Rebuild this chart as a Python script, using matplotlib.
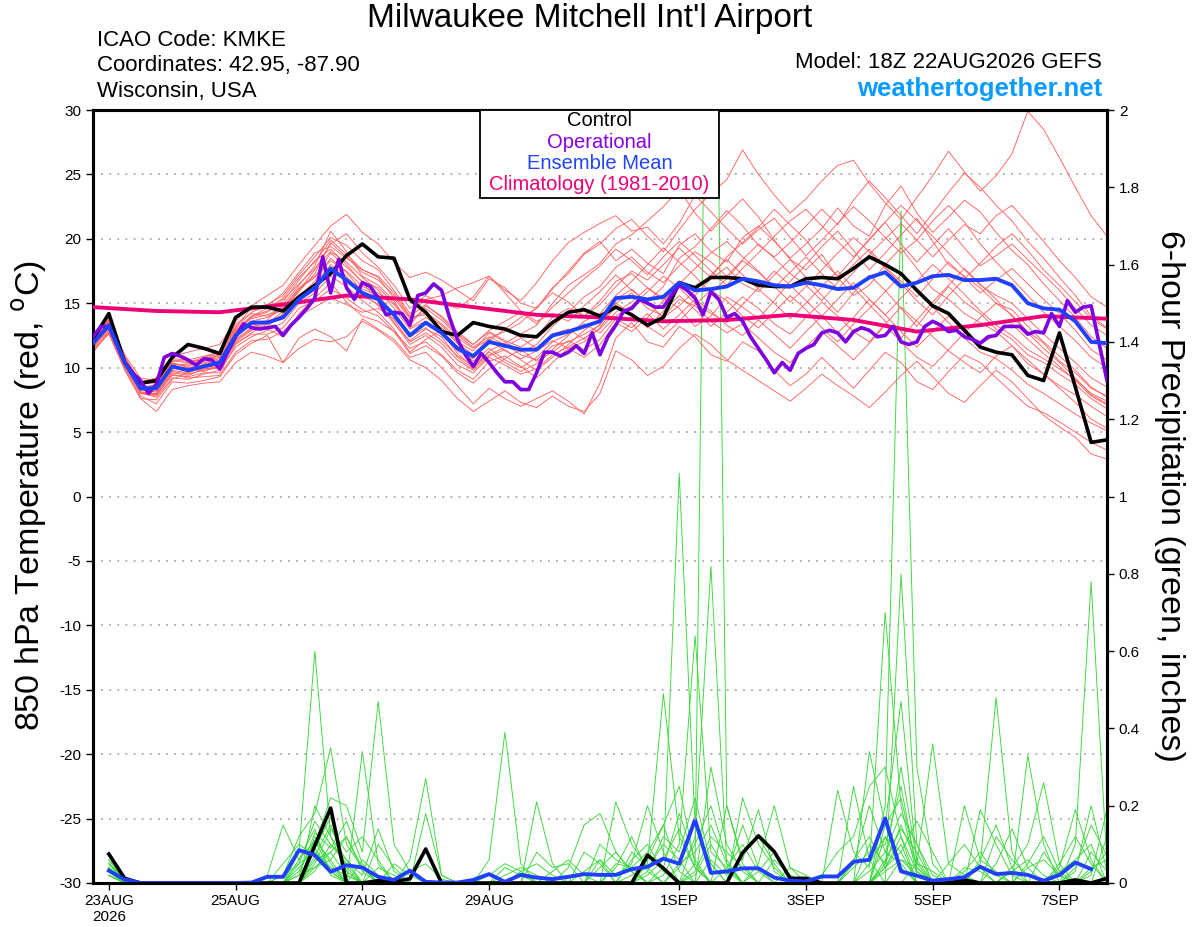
import matplotlib
matplotlib.use("Agg")
import matplotlib.pyplot as plt
import numpy as np
from matplotlib.ticker import FuncFormatter
from matplotlib.patches import Rectangle

plt.rcParams['font.family'] = ['Liberation Sans', 'DejaVu Sans']
plt.rcParams['axes.unicode_minus'] = False

# ---------------- data ----------------
run_start = np.datetime64('2026-08-22T18')
tick_dates = ['2026-08-23', '2026-08-25', '2026-08-27', '2026-08-29',
              '2026-09-01', '2026-09-03', '2026-09-05', '2026-09-07']
tick_labels = ['23AUG\n2026', '25AUG', '27AUG', '29AUG', '1SEP', '3SEP', '5SEP', '7SEP']

# 850 hPa temperature, 6-hourly from 18Z 22AUG
control_t = [12.2, 14.2, 10.4, 8.8, 9.0, 10.8, 11.8, 11.5, 11.1,
             13.9, 14.7, 14.7, 14.4, 15.5, 16.4, 17.3, 18.7, 19.6, 18.6, 18.5, 15.3,
             14.3, 12.8, 12.5, 13.5, 13.2, 13.0, 12.5, 12.4, 13.5, 14.3, 14.5, 14.0,
             14.7, 14.1, 13.3, 13.9, 16.6, 16.2, 17.0, 17.0, 16.9, 16.4, 16.3, 16.3,
             16.9, 17.0, 16.9, 17.7, 18.6, 18.0, 17.3, 16.0, 14.8, 14.2, 12.9, 11.6,
             11.2, 11.0, 9.4, 9.0, 12.7, 8.5, 4.2, 4.4]

mean_t = [11.9, 13.3, 10.4, 8.4, 8.4, 10.1, 9.8, 10.1, 10.4,
          12.5, 13.5, 13.5, 13.9, 15.3, 16.2, 17.7, 16.8, 15.8, 15.3, 14.1, 12.5,
          13.5, 12.7, 11.5, 10.9, 12.0, 11.7, 11.4, 11.4, 12.5, 12.8, 13.2, 13.6,
          15.4, 15.5, 15.3, 15.5, 16.6, 16.0, 16.1, 16.3, 16.9, 16.7, 16.4, 16.3,
          16.6, 16.4, 16.1, 16.2, 17.0, 17.4, 16.3, 16.6, 17.1, 17.2, 16.8, 16.8,
          16.9, 16.4, 15.0, 14.6, 14.5, 13.6, 12.0, 11.9]

# operational run, 3-hourly
oper_t = [12.4, 13.2, 13.2, 11.8, 10.4, 9.6, 9.0, 8.0, 8.7, 10.8, 11.1, 10.9,
          10.6, 10.2, 10.7, 10.6, 9.9, 11.2, 12.4, 13.4, 13.1, 13.0, 13.1, 13.2,
          12.5, 13.3, 13.9, 14.6, 15.4, 18.6, 15.8, 18.4, 16.2, 15.3, 16.6, 16.3,
          15.4, 14.1, 14.3, 14.2, 13.3, 15.6, 15.8, 16.5, 16.0, 13.9, 12.2, 11.0,
          10.1, 11.1, 10.4, 9.6, 8.9, 8.9, 8.3, 8.3, 9.6, 11.2, 11.2, 10.9,
          11.2, 11.7, 11.1, 12.7, 11.0, 12.4, 13.3, 14.4, 14.6, 15.3, 15.0, 14.7,
          14.7, 15.6, 16.4, 16.0, 15.4, 14.1, 15.9, 15.3, 13.9, 14.2, 13.6, 12.4,
          11.5, 10.6, 9.6, 10.4, 9.8, 11.1, 11.5, 11.8, 12.7, 12.9, 12.7, 12.0,
          12.8, 13.1, 12.9, 12.4, 12.5, 13.2, 12.0, 11.8, 12.0, 13.2, 13.6, 13.3,
          12.8, 12.9, 12.4, 12.2, 11.9, 12.4, 12.5, 13.2, 13.2, 13.2, 12.6, 12.8,
          12.7, 14.2, 13.2, 15.2, 14.3, 14.7, 14.8, 11.9, 9.0]

# climatology, daily
clim_t = [14.7, 14.4, 14.3, 14.9, 15.6, 15.3, 14.7, 14.1, 13.9,
          13.6, 13.7, 14.1, 13.7, 12.8, 13.3, 14.0, 13.8]

# ensemble members, 6-hourly
members_t = [
    [12.3, 13.6, 10.8, 8.9, 9.2, 10.9, 11.2, 11.5, 11.8,
     13.6, 14.8, 15.6, 16.4, 18.0, 19.5, 21.0, 21.9, 20.5, 19.6, 18.2, 17.0,
     17.4, 16.8, 16.0, 15.2, 16.9, 16.2, 15.0, 14.6, 16.1, 17.5, 18.9, 19.8,
     18.3, 19.2, 18.1, 17.3, 19.5, 20.4, 19.0, 18.2, 20.1, 21.0, 19.8, 18.5,
     19.6, 20.8, 22.4, 21.0, 20.2, 22.6, 24.1, 22.0, 20.5, 21.7, 23.0, 22.1,
     20.5, 19.1, 18.0, 16.5, 15.2, 13.9, 12.4, 11.5],
    [11.5, 12.9, 10.0, 7.8, 7.2, 8.9, 8.8, 9.0, 9.3,
     11.0, 11.9, 12.5, 10.4, 12.3, 13.0, 12.4, 11.3, 13.8, 13.0, 12.2, 10.8,
     11.2, 10.0, 8.6, 7.2, 8.4, 7.6, 7.0, 7.6, 8.2, 7.4, 6.4, 8.8,
     12.3, 13.5, 12.0, 11.6, 13.2, 12.4, 11.0, 10.5, 12.0, 11.3, 9.8, 8.6,
     9.5, 10.8, 9.6, 8.4, 9.8, 11.2, 10.4, 8.9, 8.3, 9.7, 11.0, 10.4,
     9.2, 8.1, 7.0, 6.5, 5.8, 5.0, 4.2, 3.6],
    [12.0, 13.1, 10.6, 8.2, 8.6, 10.4, 10.0, 9.7, 10.2,
     12.8, 13.9, 14.3, 15.1, 16.8, 18.3, 19.2, 18.0, 16.6, 15.2, 13.4, 12.1,
     13.0, 12.4, 10.8, 9.9, 11.3, 11.9, 12.6, 13.3, 15.0, 16.4, 17.2, 18.1,
     19.6, 20.3, 21.4, 22.5, 23.8, 22.0, 20.6, 21.9, 23.1, 21.7, 19.9, 18.4,
     17.6, 18.8, 17.0, 15.6, 16.4, 18.0, 19.3, 17.7, 16.1, 15.3, 14.2, 13.5,
     12.8, 11.7, 10.3, 9.5, 8.6, 7.9, 7.0, 6.2],
    [11.8, 13.4, 10.2, 8.0, 8.0, 9.6, 9.4, 9.9, 10.0,
     12.0, 12.9, 13.2, 14.2, 15.5, 16.7, 18.5, 17.4, 15.9, 14.8, 13.5, 11.8,
     12.5, 11.6, 10.2, 9.6, 10.8, 10.2, 9.5, 9.9, 11.0, 11.6, 12.3, 13.0,
     14.3, 15.1, 16.2, 15.4, 14.6, 13.2, 14.0, 15.5, 14.7, 13.8, 15.2, 16.7,
     18.0, 19.4, 20.6, 19.1, 17.6, 18.9, 20.3, 21.6, 19.8, 18.0, 17.1, 16.2,
     15.0, 14.1, 12.8, 11.9, 10.5, 9.6, 8.4, 7.8],
    [12.4, 13.8, 11.0, 9.2, 9.0, 10.7, 10.6, 10.9, 11.2,
     13.2, 14.6, 14.9, 15.6, 17.2, 18.6, 20.1, 19.5, 18.3, 17.6, 16.0, 14.2,
     15.3, 15.6, 16.2, 16.6, 17.1, 15.8, 14.4, 13.6, 14.2, 13.6, 14.8, 15.9,
     17.2, 16.0, 15.1, 16.3, 18.5, 19.4, 20.8, 22.2, 21.0, 19.5, 18.6, 19.7,
     21.0, 22.3, 21.1, 23.0, 24.5, 23.2, 21.8, 20.4, 22.0, 23.6, 25.1, 24.0,
     22.6, 21.4, 19.8, 18.5, 17.0, 15.6, 14.0, 13.1],
    [11.2, 12.7, 9.8, 7.6, 7.5, 9.1, 9.6, 10.3, 10.6,
     12.9, 13.4, 13.0, 12.4, 14.2, 15.4, 16.6, 15.1, 14.0, 13.6, 12.8, 11.5,
     12.0, 11.0, 9.8, 9.1, 10.5, 10.9, 10.1, 9.2, 10.4, 11.5, 10.8, 11.8,
     13.5, 12.8, 13.9, 15.2, 16.4, 15.6, 16.9, 17.8, 16.5, 15.9, 17.2, 18.4,
     17.0, 15.6, 14.3, 15.8, 17.2, 16.0, 14.6, 13.2, 14.8, 16.3, 15.1, 14.2,
     13.0, 12.2, 11.0, 10.4, 9.5, 8.7, 7.6, 6.8],
    [12.6, 13.9, 10.9, 8.7, 8.9, 10.3, 10.1, 10.6, 11.0,
     13.4, 14.2, 14.0, 14.6, 16.1, 17.0, 18.9, 17.8, 16.7, 16.2, 15.0, 13.6,
     14.6, 13.7, 12.5, 11.6, 12.4, 11.8, 11.0, 10.6, 11.7, 12.0, 12.6, 13.3,
     15.0, 15.8, 14.6, 14.0, 15.3, 14.8, 13.6, 12.7, 13.4, 12.3, 11.2, 10.4,
     11.6, 12.8, 11.7, 10.6, 11.9, 13.3, 12.0, 10.8, 10.1, 11.4, 12.7, 13.9,
     15.0, 14.5, 13.2, 12.0, 10.9, 9.8, 8.5, 7.7],
    [11.6, 13.0, 10.3, 8.3, 8.1, 9.8, 9.6, 10.0, 10.2,
     12.2, 13.1, 13.7, 14.9, 16.4, 17.9, 20.6, 19.0, 17.1, 16.4, 15.2, 13.1,
     13.9, 13.1, 11.9, 11.0, 12.3, 12.8, 13.5, 14.7, 15.8, 15.1, 14.0, 14.9,
     16.3, 17.5, 16.8, 18.0, 19.3, 18.1, 17.0, 18.6, 19.7, 20.9, 22.3, 21.1,
     19.9, 18.3, 17.1, 18.5, 20.0, 21.3, 19.6, 18.2, 19.5, 20.8, 19.3, 17.9,
     18.7, 19.6, 18.4, 17.2, 16.0, 14.6, 13.3, 12.5],
    [11.4, 12.6, 9.9, 7.6, 6.6, 8.3, 8.6, 8.8, 8.9,
     10.4, 11.2, 10.9, 10.4, 11.5, 12.2, 12.0, 12.4, 13.6, 12.9, 12.0, 10.6,
     10.0, 9.0, 7.6, 6.6, 7.4, 8.2, 7.3, 6.9, 7.8, 7.0, 6.6, 8.0,
     11.3, 10.6, 9.4, 10.1, 11.5, 12.6, 11.8, 10.6, 9.8, 9.0, 8.2, 7.4,
     8.4, 9.5, 8.6, 7.8, 6.9, 8.1, 9.4, 10.5, 9.3, 8.0, 7.3, 8.6,
     9.8, 8.9, 7.6, 6.3, 5.4, 4.6, 3.3, 2.9],
    [12.1, 13.5, 10.5, 8.5, 8.3, 10.0, 9.9, 10.4, 10.7,
     12.6, 13.6, 13.9, 14.5, 15.9, 17.3, 19.7, 18.6, 17.4, 16.8, 15.6, 13.9,
     14.1, 13.3, 12.0, 11.3, 12.7, 12.0, 11.2, 11.8, 13.2, 14.3, 15.5, 16.3,
     17.8, 18.6, 17.4, 16.6, 17.9, 19.0, 18.2, 17.1, 18.4, 19.6, 18.5, 17.3,
     16.4, 15.2, 16.6, 18.0, 19.2, 17.8, 16.7, 15.5, 16.9, 18.2, 17.0, 15.8,
     16.8, 17.7, 16.5, 15.3, 14.2, 12.9, 11.4, 10.6],
    [11.7, 13.2, 10.1, 8.1, 7.7, 9.2, 9.1, 9.5, 9.8,
     11.6, 12.4, 12.9, 13.5, 15.0, 15.8, 17.1, 16.3, 15.2, 14.3, 13.0, 11.2,
     12.2, 12.9, 11.6, 10.5, 11.5, 10.6, 10.0, 10.8, 12.0, 12.6, 13.4, 12.7,
     14.0, 14.8, 15.9, 17.1, 16.2, 15.0, 14.2, 13.5, 14.9, 16.2, 17.5, 16.4,
     15.2, 14.0, 12.7, 13.9, 15.3, 14.1, 12.8, 11.6, 12.8, 14.0, 12.9, 11.8,
     12.6, 13.4, 12.2, 11.1, 10.1, 9.0, 7.8, 7.1],
    [12.2, 13.7, 10.7, 8.6, 8.5, 10.2, 10.3, 10.7, 11.1,
     13.0, 14.0, 14.4, 15.3, 16.5, 17.7, 19.0, 18.2, 17.0, 16.0, 14.6, 13.0,
     13.6, 12.6, 11.3, 10.7, 12.1, 13.0, 13.9, 14.6, 16.2, 17.3, 18.8, 19.6,
     20.8, 21.5, 20.2, 19.0, 20.7, 22.3, 23.5, 24.6, 26.9, 25.0, 23.4, 22.0,
     23.1, 24.5, 25.7, 26.1, 24.3, 22.8, 21.5, 23.2, 24.9, 26.8, 25.2, 23.7,
     24.9, 26.6, 29.9, 28.5, 26.3, 24.0, 21.8, 20.2],
    [11.9, 13.3, 10.4, 8.2, 8.2, 9.9, 10.0, 10.2, 10.5,
     12.4, 13.3, 13.6, 14.0, 15.2, 16.0, 17.6, 16.9, 16.1, 15.6, 14.2, 12.4,
     13.1, 12.1, 10.9, 10.2, 11.2, 10.4, 9.7, 10.3, 11.4, 12.5, 13.6, 14.2,
     15.6, 16.7, 18.0, 19.3, 18.2, 17.1, 15.8, 16.9, 18.3, 17.4, 16.3, 15.1,
     16.3, 17.6, 18.9, 20.1, 19.0, 17.7, 16.5, 15.2, 14.1, 15.6, 16.9, 18.1,
     19.4, 20.4, 19.1, 17.6, 16.4, 15.1, 13.8, 13.0],
    [12.5, 13.6, 10.6, 8.8, 8.8, 10.5, 10.4, 10.8, 11.2,
     13.1, 14.3, 14.8, 15.8, 17.4, 18.9, 19.4, 18.5, 17.6, 17.0, 15.4, 13.8,
     14.3, 13.4, 12.3, 11.5, 12.2, 11.3, 10.7, 11.3, 12.1, 11.5, 12.0, 13.1,
     14.8, 14.1, 13.2, 12.4, 13.6, 14.9, 16.0, 15.2, 14.0, 13.1, 14.3, 15.6,
     14.5, 13.1, 12.0, 13.4, 14.6, 15.9, 17.2, 16.0, 14.7, 13.5, 12.3, 11.2,
     10.7, 9.8, 8.7, 8.0, 7.2, 6.4, 5.7, 5.1],
    [11.3, 12.8, 10.2, 8.0, 7.9, 9.4, 9.3, 9.6, 9.6,
     11.8, 12.7, 13.4, 14.4, 16.0, 17.6, 19.6, 20.4, 18.9, 17.8, 16.4, 14.6,
     15.6, 15.0, 14.6, 15.5, 17.1, 16.0, 15.2, 16.6, 18.3, 19.7, 20.5, 21.2,
     21.8, 20.6, 20.9, 19.6, 21.2, 23.4, 22.1, 20.8, 19.6, 20.7, 21.6, 20.1,
     18.7, 19.9, 21.2, 22.5, 21.4, 20.1, 18.9, 19.9, 21.4, 22.6, 21.3, 19.6,
     18.2, 16.9, 15.6, 14.3, 13.2, 12.1, 10.8, 10.0],
    [12.0, 13.0, 10.3, 8.4, 8.4, 10.0, 9.7, 9.9, 10.1,
     11.9, 12.6, 12.6, 13.1, 14.6, 15.2, 16.1, 15.4, 14.5, 14.0, 12.8, 11.1,
     11.7, 10.9, 9.6, 8.8, 9.9, 10.7, 11.4, 10.5, 11.2, 12.1, 11.4, 12.2,
     13.8, 13.1, 14.2, 13.0, 14.1, 15.3, 14.4, 13.3, 12.5, 13.7, 12.6, 11.5,
     12.8, 14.0, 15.3, 16.6, 15.3, 14.1, 15.4, 16.7, 18.0, 16.9, 15.7, 14.4,
     13.3, 12.5, 11.4, 10.7, 9.9, 9.1, 8.0, 7.4],
    [12.3, 13.5, 10.8, 8.4, 8.7, 10.6, 10.5, 10.6, 10.9,
     12.9, 13.8, 14.1, 14.7, 16.2, 17.1, 18.3, 17.5, 16.3, 15.8, 14.9, 13.3,
     14.8, 14.0, 12.8, 11.8, 12.8, 12.1, 11.6, 12.4, 13.9, 14.6, 14.0, 15.2,
     16.7, 17.3, 16.2, 15.2, 16.5, 17.7, 18.9, 19.8, 18.6, 17.5, 16.2, 17.4,
     18.6, 17.3, 16.1, 17.4, 18.8, 20.0, 21.2, 19.9, 18.6, 19.9, 21.1, 20.4,
     21.8, 22.6, 21.2, 19.8, 18.3, 17.0, 15.5, 14.7],
    [11.6, 13.1, 10.4, 8.0, 7.8, 9.5, 9.2, 9.3, 9.4,
     11.2, 12.1, 12.2, 12.8, 14.0, 14.7, 15.4, 14.9, 14.3, 14.6, 13.8, 12.5,
     13.5, 12.8, 11.1, 10.0, 11.0, 11.6, 12.3, 11.5, 12.6, 13.0, 12.2, 13.4,
     15.0, 14.2, 13.1, 14.4, 15.6, 14.5, 13.2, 14.3, 15.5, 14.6, 13.4, 12.6,
     13.9, 15.1, 14.0, 12.8, 12.0, 13.4, 14.7, 13.6, 12.4, 11.3, 10.4, 9.6,
     10.9, 11.7, 10.6, 9.5, 8.4, 7.3, 6.0, 5.3],
    [12.2, 13.6, 10.6, 8.5, 8.6, 10.3, 10.2, 10.5, 10.8,
     12.7, 14.0, 14.6, 15.4, 17.0, 18.2, 19.9, 18.8, 17.6, 17.1, 15.8, 14.0,
     14.9, 13.9, 12.6, 11.8, 12.9, 13.6, 14.3, 13.4, 14.7, 15.8, 16.9, 17.9,
     19.2, 18.3, 17.2, 18.6, 19.8, 18.7, 17.5, 16.4, 17.7, 18.9, 20.2, 21.4,
     22.3, 21.0, 19.8, 18.6, 19.9, 21.3, 22.6, 21.4, 20.2, 18.9, 17.6, 16.4,
     15.6, 15.0, 13.8, 12.6, 11.5, 10.4, 9.2, 8.5],
    [11.8, 13.2, 10.2, 8.1, 8.0, 9.7, 9.5, 9.8, 10.0,
     12.1, 13.0, 13.5, 14.1, 15.6, 16.5, 18.0, 17.1, 15.6, 14.9, 13.7, 12.0,
     12.7, 11.9, 10.6, 9.8, 10.9, 11.4, 10.6, 9.8, 10.8, 11.8, 12.9, 13.8,
     15.3, 16.1, 15.0, 13.9, 14.8, 16.0, 17.2, 18.4, 17.2, 16.1, 15.0, 13.8,
     15.0, 16.3, 17.5, 16.2, 14.9, 13.6, 12.3, 13.7, 15.1, 16.4, 17.7, 16.5,
     15.3, 14.0, 12.7, 11.5, 10.4, 9.2, 7.9, 7.2],
]

# 6-hour precipitation (inches), valid at 6h..384h
control_p = [0.075, 0.012, 0, 0, 0, 0, 0, 0, 0, 0, 0, 0, 0,
             0.097, 0.194, 0, 0, 0.006, 0.003, 0.011, 0.088, 0,
             0, 0, 0, 0, 0, 0, 0, 0, 0, 0, 0, 0,
             0.072, 0.038, 0, 0, 0, 0, 0.078, 0.122, 0.081, 0.012, 0.012, 0,
             0, 0, 0, 0, 0, 0, 0, 0, 0.008, 0, 0, 0, 0, 0, 0, 0.008, 0, 0.012]

mean_p = [0.032, 0.009, 0, 0, 0, 0, 0, 0, 0, 0.001, 0.016, 0.016,
          0.085, 0.072, 0.029, 0.046, 0.040, 0.016, 0.008, 0.032, 0.003, 0.001,
          0.001, 0.008, 0.023, 0.003, 0.021, 0.014, 0.010, 0.016, 0.023, 0.021,
          0.021, 0.036, 0.042, 0.063, 0.050, 0.164, 0.026, 0.030, 0.038, 0.038,
          0.014, 0.006, 0.004, 0.017, 0.017, 0.055, 0.060, 0.167, 0.030, 0.019,
          0.006, 0.010, 0.015, 0.042, 0.023, 0.026, 0.021, 0.006, 0.021, 0.053,
          0.036]

# member precipitation: forecast hour -> inches (zero elsewhere)
members_p = [
    {6: .05, 12: .01, 78: .08, 84: .60, 90: .12, 96: .03, 204: .08, 210: .04, 216: .06,
     222: 1.06, 228: .15, 234: .05, 300: .12, 306: .08, 336: .05, 342: .48, 348: .08},
    {6: .03, 72: .02, 78: .12, 84: .18, 90: .35, 96: .10, 102: .04, 168: .21, 174: .05,
     216: .02, 222: .10, 228: .64, 234: .08, 240: .04, 294: .34, 300: .15, 306: .47,
     312: .05, 366: .04, 372: .19, 378: .06},
    {6: .06, 12: .01, 66: .02, 72: .15, 78: .06, 84: .14, 90: .02, 102: .34, 108: .05,
     228: .05, 234: 3.4, 240: .20, 246: .05, 300: .04, 306: .12, 312: .03, 354: .33, 360: .10},
    {6: .02, 84: .10, 90: .22, 96: .20, 102: .08, 108: .47, 114: .10, 120: .03, 198: .21,
     204: .10, 210: .04, 246: .22, 252: .10, 258: .04, 282: .24, 288: .08, 294: .04,
     300: .70, 306: .20, 312: .02, 378: .02, 384: .19},
    {6: .04, 12: .005, 78: .02, 84: .13, 90: .09, 96: .16, 102: .05, 120: .06, 126: .27,
     132: .02, 192: .06, 198: .02, 204: .05, 210: .20, 216: .08, 228: .12, 234: .82,
     240: .05, 300: .20, 306: 1.74, 312: .30, 318: .05, 348: .04, 354: .10, 360: .26, 366: .05},
    {6: .03, 72: .05, 78: .10, 84: .07, 90: .04, 150: .06, 156: .39, 162: .05, 210: .05,
     216: .49, 222: .12, 228: .04, 288: .25, 294: .06, 306: .80, 312: .10, 318: .02,
     372: .10, 378: .78, 384: .05},
    {6: .04, 84: .20, 90: .12, 96: .06, 102: .02, 108: .14, 114: .03, 180: .04, 186: .15,
     192: .18, 198: .08, 204: .03, 240: .20, 246: .06, 252: .19, 258: .03, 312: .05,
     318: .36, 324: .05, 330: .02},
    {6: .05, 12: .01, 78: .04, 84: .09, 90: .17, 96: .03, 126: .18, 132: .02, 162: .03,
     168: .05, 174: .02, 204: .02, 210: .04, 216: .10, 222: .06, 252: .05, 258: .20,
     264: .04, 294: .05, 300: .12, 306: .04, 330: .20, 336: .06, 342: .03},
    {6: .02, 72: .02, 78: .05, 84: .16, 90: .10, 96: .05, 114: .05, 120: .02, 186: .08,
     192: .05, 228: .02, 234: .10, 240: .03, 276: .02, 282: .08, 288: .12, 294: .25,
     300: .30, 306: .12, 336: .19, 342: .10, 348: .02},
    {6: .03, 84: .05, 90: .14, 96: .08, 102: .12, 108: .06, 156: .04, 162: .02, 198: .05,
     204: .04, 210: .08, 216: .15, 222: .03, 234: .06, 240: .02, 246: .15, 252: .04,
     300: .06, 306: .14, 312: .08, 354: .05, 360: .12, 366: .03, 378: .08, 384: .03},
    {6: .06, 12: .01, 78: .03, 84: .11, 90: .06, 150: .02, 156: .05, 162: .03, 192: .10,
     198: .06, 204: .04, 246: .08, 252: .12, 258: .05, 288: .05, 294: .20, 300: .08,
     306: .05, 342: .12, 348: .06, 354: .02, 372: .04, 378: .15, 384: .07},
    {6: .02, 78: .02, 84: .04, 90: .08, 96: .12, 102: .03, 168: .08, 174: .04, 180: .05,
     210: .02, 216: .06, 222: .14, 228: .04, 264: .04, 270: .02, 300: .15, 306: .22,
     312: .04, 324: .05, 330: .10, 336: .04, 366: .05, 372: .12, 378: .05},
    {6: .04, 84: .07, 90: .15, 96: .04, 108: .10, 114: .04, 210: .03, 216: .12, 222: .08,
     228: .22, 234: .05, 300: .04, 306: .08, 312: .16, 318: .08, 342: .05, 348: .14, 354: .04},
    {6: .05, 12: .01, 84: .12, 90: .05, 102: .06, 108: .02, 174: .03, 180: .06, 186: .02,
     222: .05, 228: .08, 234: .15, 240: .05, 258: .06, 264: .02, 294: .10, 300: .05,
     306: .30, 312: .06, 360: .08, 366: .02, 384: .12},
    {6: .03, 78: .05, 84: .08, 90: .04, 96: .02, 198: .04, 204: .12, 210: .03, 228: .03,
     234: .12, 240: .08, 246: .04, 288: .04, 294: .08, 300: .10, 306: .25, 312: .03,
     330: .03, 336: .08, 342: .02, 378: .04, 384: .06},
    {6: .02, 84: .09, 90: .03, 120: .03, 126: .05, 132: .01, 216: .04, 222: .18, 228: .06,
     252: .03, 258: .08, 264: .02, 306: .06, 312: .04, 348: .03, 354: .06, 360: .02},
    {6: .04, 12: .005, 84: .03, 90: .10, 96: .06, 204: .06, 210: .10, 216: .03, 240: .04,
     246: .10, 252: .03, 300: .05, 306: .15, 312: .05, 318: .03, 366: .03, 372: .06, 378: .10},
    {6: .03, 78: .06, 84: .11, 90: .03, 108: .04, 114: .02, 192: .04, 198: .08, 204: .03,
     222: .04, 228: .10, 234: .20, 240: .06, 294: .03, 300: .08, 306: .18, 312: .10,
     336: .06, 342: .15, 348: .04},
    {6: .05, 84: .06, 90: .08, 96: .02, 156: .02, 162: .04, 168: .02, 210: .06, 216: .15,
     222: .25, 228: .05, 288: .06, 294: .12, 300: .04, 306: .10, 354: .04, 360: .06,
     366: .02, 378: .03, 384: .08},
    {6: .02, 84: .04, 90: .06, 96: .12, 102: .04, 186: .03, 192: .06, 234: .30, 240: .10,
     246: .03, 300: .03, 306: .06, 312: .02, 330: .04, 336: .03, 372: .03, 378: .20, 384: .03},
]

# ---------------- figure ----------------
RED = '#ff6262'
GREEN = '#38d838'
BLACK = '#000000'
PURPLE = '#7d00e0'
BLUE = '#2040ff'
PINK = '#ee0077'

fig = plt.figure(figsize=(12, 9.27), dpi=100)
ax = fig.add_axes([93 / 1200, 44 / 927, 1014 / 1200, 773 / 927])
ax2 = ax.twinx()

hours6 = np.arange(len(control_t)) * 6
hours_op = np.arange(len(oper_t)) * 3
hours_cl = np.arange(len(clim_t)) * 24
hours_p = 6 + np.arange(len(control_p)) * 6
hours_mp = 6 + np.arange(len(mean_p)) * 6

# precipitation on the right axis (drawn underneath)
for m in members_p:
    vals = [m.get(h, 0.0) for h in range(6, 385, 6)]
    ax2.plot(np.arange(6, 385, 6), vals, color=GREEN, lw=0.65, zorder=1)
ax2.plot(hours_p, control_p, color=BLACK, lw=2.6, zorder=3)
ax2.plot(hours_mp, mean_p, color=BLUE, lw=2.8, zorder=4)
ax2.set_ylim(0, 2)
ax2.set_yticks(np.arange(0, 2.01, 0.2))
ax2.yaxis.set_major_formatter(FuncFormatter(lambda v, p: '%g' % round(v, 1)))

# temperature on the left axis (on top)
ax.set_zorder(ax2.get_zorder() + 1)
ax.patch.set_visible(False)
for y in range(-25, 30, 5):
    ax.axhline(y, color='#aaaaaa', lw=1.3, linestyle=(0, (1, 3.5)), zorder=0)
for m in members_t:
    ax.plot(np.arange(len(m)) * 6, m, color=RED, lw=0.65, zorder=1)
ax.plot(hours_cl, clim_t, color=PINK, lw=2.8, zorder=3)
ax.plot(hours6, control_t, color=BLACK, lw=2.6, zorder=4)
ax.plot(hours_op, oper_t, color=PURPLE, lw=2.6, zorder=5)
ax.plot(hours6, mean_t, color=BLUE, lw=2.8, zorder=6)

ax.set_xlim(0, 384)
ax.set_ylim(-30, 30)
ax.set_yticks(np.arange(-30, 31, 5))
tick_hours = [(np.datetime64(d) - run_start) / np.timedelta64(1, 'h') for d in tick_dates]
ax.set_xticks(tick_hours)
ax.set_xticklabels(tick_labels)

for a in (ax, ax2):
    a.tick_params(direction='out', length=5, width=1, labelsize=11)
    for s in a.spines.values():
        s.set_linewidth(2.2)
ax.tick_params(axis='x', pad=3)

# legend box
ax.add_patch(Rectangle((0.3817, 0.886), 0.2357, 0.114, transform=ax.transAxes,
                       facecolor='white', edgecolor='black', lw=1.3, zorder=20))
leg_items = [('Control', BLACK), ('Operational', '#8a00e6'),
             ('Ensemble Mean', '#2244ff'), ('Climatology (1981-2010)', PINK)]
for i, (txt, col) in enumerate(leg_items):
    ax.text(0.4995, 0.9858 - i * 0.0276, txt, color=col, fontsize=14.5,
            ha='center', va='center', transform=ax.transAxes, zorder=21)

# titles and labels
fig.text(590 / 1200, 1 - 18 / 927, "Milwaukee Mitchell Int'l Airport",
         fontsize=24, ha='center', va='center')
info = ['ICAO Code: KMKE', 'Coordinates: 42.95, -87.90', 'Wisconsin, USA']
for i, line in enumerate(info):
    fig.text(97 / 1200, 1 - (40 + 26 * i) / 927, line, fontsize=16, ha='left', va='center')
fig.text(1102 / 1200, 1 - 63 / 927, 'Model: 18Z 22AUG2026 GEFS',
         fontsize=16, ha='right', va='center')
fig.text(1102 / 1200, 1 - 89 / 927, 'weathertogether.net', fontsize=18.5,
         fontweight='bold', color='#0a9bff', ha='right', va='center')

fig.text(30 / 1200, 1 - 495 / 927, r'850 hPa Temperature (red, $^{\mathrm{o}}$C)',
         fontsize=24.5, rotation=90, ha='center', va='center')
fig.text(1170 / 1200, 1 - 496 / 927, '6-hour Precipitation (green, inches)',
         fontsize=24.5, rotation=270, ha='center', va='center')

fig.savefig('out.png', dpi=100)
